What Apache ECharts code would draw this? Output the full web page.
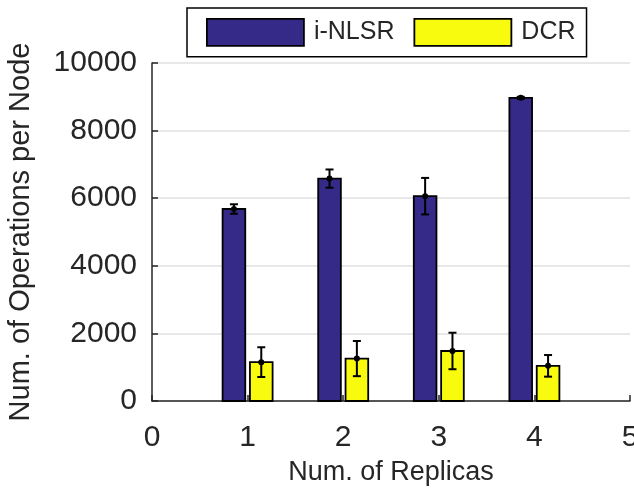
<!DOCTYPE html>
<html>
<head>
<meta charset="utf-8">
<script src="https://cdn.jsdelivr.net/npm/echarts@6/dist/echarts.min.js"></script>
<style>html,body{margin:0;padding:0;background:#fff}#c{width:634px;height:489px}</style>
</head>
<body>
<div id="c"></div>
<script>
var replicas = [1, 2, 3, 4];
var inlsr = [5680, 6580, 6060, 8970];
var inlsrErr = [140, 270, 540, 30];
var dcr = [1150, 1255, 1480, 1040];
var dcrErr = [440, 520, 540, 320];
var xTicks = [0, 1, 2, 3, 4, 5];
var yTicks = [0, 2000, 4000, 6000, 8000, 10000];

var FONT = 'Liberation Sans, Arial, Helvetica, sans-serif';
var TXT = '#262626';
var BLUE = '#352A87';
var YELLOW = '#F9FB0E';
var OFFSET = 0.143, BW = 0.237;

function barSeries(name, vals, errs, color, off) {
  var data = replicas.map(function (x, i) { return [x, vals[i], errs[i]]; });
  return [{
    name: name,
    type: 'custom',
    data: data,
    itemStyle: { color: color, borderColor: '#000', borderWidth: 1.8 },
    renderItem: function (params, api) {
      var x = api.value(0), y = api.value(1);
      var p0 = api.coord([x + off - BW / 2, y]);
      var p1 = api.coord([x + off + BW / 2, 0]);
      return {
        type: 'rect',
        shape: { x: p0[0], y: p0[1], width: p1[0] - p0[0], height: p1[1] - p0[1] },
        style: { fill: color, stroke: '#000', lineWidth: 1.8 }
      };
    },
    z: 3
  }, {
    name: name + '-err',
    type: 'custom',
    data: data,
    renderItem: function (params, api) {
      var x = api.value(0) + off, y = api.value(1), e = api.value(2);
      var pt = api.coord([x, y + e]), pb = api.coord([x, y - e]), pm = api.coord([x, y]);
      var cw = 4;
      var st = { stroke: '#000', lineWidth: 2 };
      return {
        type: 'group',
        children: [
          { type: 'line', shape: { x1: pt[0], y1: pt[1], x2: pb[0], y2: pb[1] }, style: st },
          { type: 'line', shape: { x1: pt[0] - cw, y1: pt[1], x2: pt[0] + cw, y2: pt[1] }, style: st },
          { type: 'line', shape: { x1: pb[0] - cw, y1: pb[1], x2: pb[0] + cw, y2: pb[1] }, style: st },
          { type: 'circle', shape: { cx: pm[0], cy: pm[1], r: 3 }, style: { fill: '#000' } }
        ]
      };
    },
    z: 4
  }];
}

var chart = echarts.init(document.getElementById('c'), null, { renderer: 'canvas' });
chart.setOption({
  animation: false,
  backgroundColor: '#fff',
  grid: { left: 152, right: 4, top: 63, bottom: 88, containLabel: false, outerBoundsMode: 'none' },
  legend: {
    left: 187, top: 8,
    orient: 'horizontal',
    padding: [10, 11, 10, 19],
    itemWidth: 97, itemHeight: 27, itemGap: 19,
    borderColor: '#000', borderWidth: 1.5,
    backgroundColor: '#fff',
    textStyle: { fontFamily: FONT, fontSize: 25, color: TXT, padding: [0, 0, 0, 5] },
    data: [
      { name: 'i-NLSR', icon: 'rect', itemStyle: { color: BLUE, borderColor: '#000', borderWidth: 1.8 } },
      { name: 'DCR', icon: 'rect', itemStyle: { color: YELLOW, borderColor: '#000', borderWidth: 1.8 } }
    ]
  },
  xAxis: {
    type: 'value', min: xTicks[0], max: xTicks[xTicks.length - 1], interval: 1,
    name: 'Num. of Replicas', nameLocation: 'middle', nameGap: 58,
    nameTextStyle: { fontFamily: FONT, fontSize: 27, color: TXT },
    axisLine: { show: true, lineStyle: { color: TXT, width: 1.5 } },
    axisTick: { show: true, inside: true, length: 6, lineStyle: { color: TXT, width: 1.5 } },
    axisLabel: { fontFamily: FONT, fontSize: 30, color: TXT, margin: 22, formatter: function (v) { return String(v); } },
    splitLine: { show: false }
  },
  yAxis: {
    type: 'value', min: yTicks[0], max: yTicks[yTicks.length - 1], interval: 2000,
    name: 'Num. of Operations per Node', nameLocation: 'middle', nameGap: 117,
    nameTextStyle: { fontFamily: FONT, fontSize: 29, color: TXT },
    axisLine: { show: true, lineStyle: { color: TXT, width: 1.5 } },
    axisTick: { show: true, inside: true, length: 6, lineStyle: { color: TXT, width: 1.5 } },
    axisLabel: { fontFamily: FONT, fontSize: 30, color: TXT, margin: 15, formatter: function (v) { return String(v); } },
    splitLine: { show: true, lineStyle: { color: '#e0e0e0', width: 1.5 } }
  },
  series: [].concat(
    barSeries('i-NLSR', inlsr, inlsrErr, BLUE, -OFFSET),
    barSeries('DCR', dcr, dcrErr, YELLOW, OFFSET)
  )
});
</script>
</body>
</html>
